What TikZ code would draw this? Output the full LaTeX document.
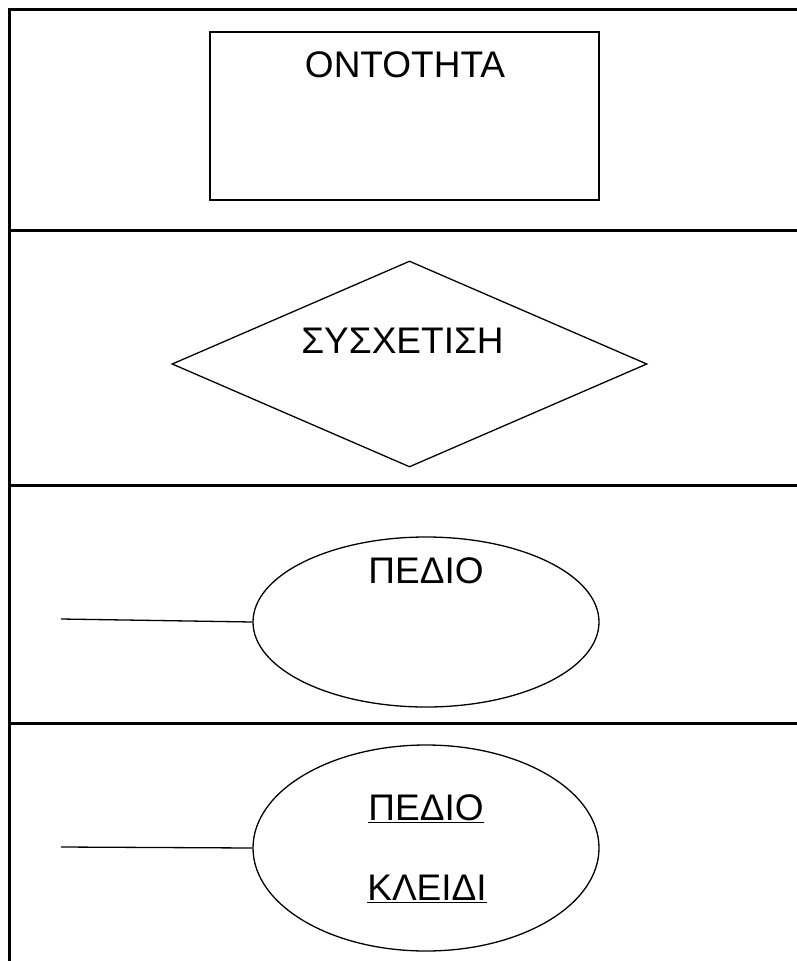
\documentclass[tikz,border=0pt]{standalone}
\usepackage{fontspec}
\setmainfont{Liberation Sans}
\usetikzlibrary{shapes.geometric}
\newcommand\ulword[1]{\setbox0\hbox{#1}\rlap{\rule[-3.3pt]{\wd0}{1.7pt}}\box0}
\tikzset{
  frameline/.style={line width=3pt},
  shapeline/.style={draw, line width=1.3pt, inner sep=0pt},
  lbl/.style={inner sep=0pt, anchor=base, font=\fontsize{37}{44}\selectfont},
}
\begin{document}
\begin{tikzpicture}[x=1pt,y=-1pt]
\useasboundingbox[fill=white] (0,0) rectangle (797,961);
% frame
\draw[frameline] (797,9) -- (9,9) -- (9,961);
\draw[frameline] (9,230) -- (797,230);
\draw[frameline] (9,485) -- (797,485);
\draw[frameline] (9,723) -- (797,723);
% entity
\node[shapeline, rectangle, minimum width=389pt, minimum height=168pt] (ent) at (404.5,116) {};
\node[lbl] (entt) at (405,77) {ΟΝΤΟΤΗΤΑ};
% relationship
\node[shapeline, diamond, minimum width=475pt, minimum height=206pt] (rel) at (409.5,364) {};
\node[lbl] (relt) at (402.5,353) {ΣΥΣΧΕΤΙΣΗ};
% attribute
\node[shapeline, ellipse, minimum width=346pt, minimum height=170pt] (att) at (426,622) {};
\node[lbl] (attt) at (426,583) {ΠΕΔΙΟ};
\coordinate (a1) at (61,619);
\draw[line width=1.3pt] (a1) -- (att.west);
% key attribute
\node[shapeline, ellipse, minimum width=346pt, minimum height=206pt] (key) at (426,848) {};
\node[lbl] (keyt1) at (426,820) {\ulword{ΠΕΔΙΟ}};
\node[lbl] (keyt2) at (427,900) {\ulword{ΚΛΕΙΔΙ}};
\coordinate (a2) at (61,847);
\draw[line width=1.3pt] (a2) -- (key.west);
\end{tikzpicture}
\end{document}
